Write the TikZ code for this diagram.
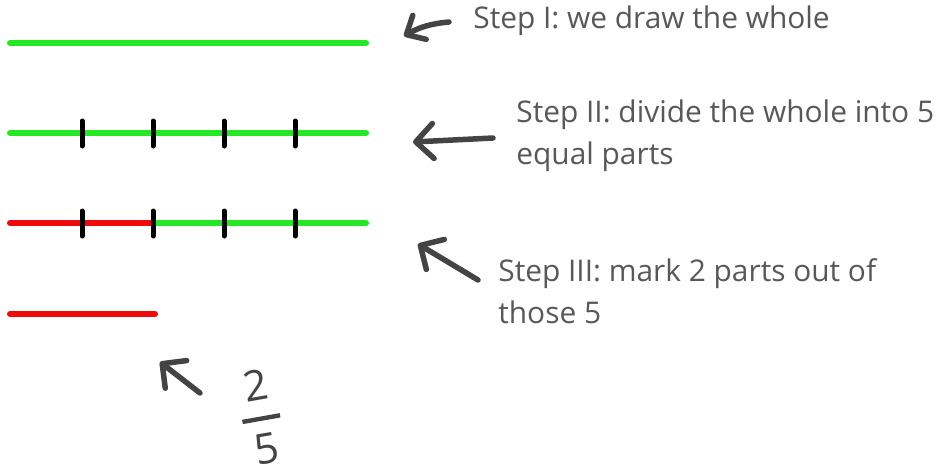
\documentclass[tikz,border=0pt]{standalone}
\usepackage{amsmath}
\usepackage{fontspec}
\setmainfont{Open Sans}
\usetikzlibrary{arrows.meta}
\definecolor{wholegreen}{RGB}{36,232,36}
\definecolor{partred}{RGB}{240,10,10}
\definecolor{textgray}{RGB}{88,88,88}
\definecolor{pengray}{RGB}{68,68,68}
\tikzstyle{wholeline} = [line width=0.12cm, line cap=round, draw=wholegreen]
\tikzstyle{partline} = [line width=0.12cm, line cap=round, draw=partred]
\tikzstyle{tickmark} = [line width=0.1cm, line cap=round, draw=black]
\tikzstyle{steptext} = [align=left, anchor=west, inner sep=0pt, text=textgray, font=\fontsize{17}{24}\selectfont]
\tikzstyle{handarrow} = [line width=0.11cm, line cap=round, line join=round, draw=pengray, -{Straight Barb[length=3.5mm,width=7mm,round]}]

\begin{document}
\begin{tikzpicture}[x=0.02cm, y=-0.02cm]
        \useasboundingbox (0,0) rectangle (943,474);
        % the four bars
        \coordinate (whole_left) at (10,43);
        \coordinate (whole_right) at (366,43);
        \coordinate (split_left) at (10,133);
        \coordinate (split_right) at (366,133);
        \coordinate (mark_left) at (10,223);
        \coordinate (mark_cut) at (153,223);
        \coordinate (mark_right) at (366,223);
        \coordinate (part_left) at (10,314);
        \coordinate (part_right) at (155,314);

        \draw [wholeline] (whole_left) -- (whole_right);
        \draw [wholeline] (split_left) -- (split_right);
        \draw [wholeline] (mark_cut) -- (mark_right);
        \draw [partline] (mark_left) -- (mark_cut);
        \draw [partline] (part_left) -- (part_right);

        \draw [tickmark] (82,121) -- (82,146);
        \draw [tickmark] (153,121) -- (153,146);
        \draw [tickmark] (224,121) -- (224,146);
        \draw [tickmark] (295,121) -- (295,146);
        \draw [tickmark] (82,211) -- (82,236);
        \draw [tickmark] (153,211) -- (153,236);
        \draw [tickmark] (224,211) -- (224,236);
        \draw [tickmark] (295,211) -- (295,236);

        % the notes
        \node (step_one) [steptext] at (473,21) {Step I: we draw the whole};
        \node (step_two) [steptext] at (516,136) {Step II: divide the whole into 5\\equal parts};
        \node (step_three) [steptext] at (498,291) {Step III: mark 2 parts out of\\those 5};
        \node (fraction) [text=pengray, rotate=10, font=\fontsize{24}{28}\selectfont] at (261,417) {$\genfrac{}{}{2.5pt}{0}{\textrm{\kern4pt 2\kern4pt}}{\textrm{5}}$};

        \coordinate (one_tail) at (449,22);
        \coordinate (one_tip) at (404,36);
        \coordinate (two_tail) at (493,138);
        \coordinate (two_tip) at (413,142);
        \coordinate (three_tail) at (478,280);
        \coordinate (three_tip) at (418,244);
        \coordinate (four_tail) at (200,393);
        \coordinate (four_tip) at (160,362);

        \draw [handarrow, -{Straight Barb[length=3mm,width=5.5mm,round]}] (one_tail) to[bend right=12] (one_tip);
        \draw [handarrow] (two_tail) -- (two_tip);
        \draw [handarrow] (three_tail) -- (three_tip);
        \draw [handarrow] (four_tail) -- (four_tip);
    \end{tikzpicture}
\end{document}
